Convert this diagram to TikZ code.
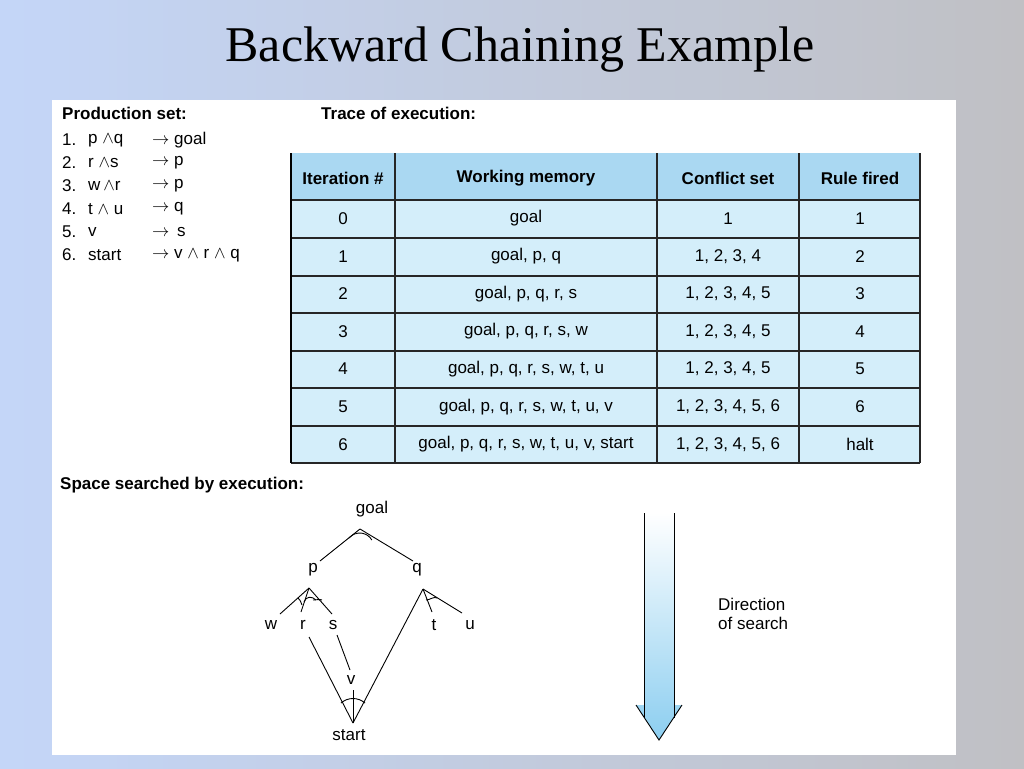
\documentclass[tikz,border=0pt]{standalone}
\usepackage{fontspec}
\setmainfont{Liberation Sans}
\newfontfamily\titlefont{Liberation Serif}
\begin{document}
\begin{tikzpicture}[x=1pt,y=-1pt,
  lbl/.style={inner sep=0pt,font=\fontsize{17}{19}\selectfont},
  hdr/.style={inner sep=0pt,font=\fontsize{17}{19}\selectfont\bfseries},
  cell/.style={inner sep=0pt,font=\fontsize{17}{19}\selectfont},
  edge/.style={line width=0.9pt},
  grid/.style={line width=1.2pt,draw=black!85}]
\useasboundingbox (0,0) rectangle (1024,768);
\shade[left color={rgb,255:red,196;green,214;blue,248},right color={rgb,255:red,192;green,192;blue,196}] (0,0) rectangle (1024,768);
\fill[white] (52,100) rectangle (956,755);
\node[inner sep=0pt,font=\fontsize{50}{56}\selectfont\titlefont] (title) at (520,50) {Backward Chaining Example};
% production set
\node[hdr,anchor=west] (ps) at (62,113) {Production set:};
\foreach \n/\l/\r [count=\i] in {1./{p $\wedge$q}/goal, 2./{r $\wedge$s}/p, 3./{w$\,\wedge$r}/p, 4./{t $\wedge$ u}/q, 5./v/{\,s}, 6./start/{v $\wedge$ r $\wedge$ q}}{
  \pgfmathsetmacro\yy{117+23*\i}
  \node[lbl,anchor=west] (pn\i) at (62,\yy) {\n};
  \node[lbl,anchor=west] (pl\i) at (88,\yy) {\l};
  \node[lbl,anchor=west] (pr\i) at (152,\yy) {$\rightarrow$ \r};
}
\node[hdr,anchor=west] (tr) at (321,113) {Trace of execution:};
% table
\fill[fill={rgb,255:red,212;green,238;blue,250}] (291,200) rectangle (920,463);
\fill[fill={rgb,255:red,170;green,216;blue,242}] (291,153) rectangle (920,200);
\foreach \y in {200,238,276,313,351,388,426,463} \draw[grid] (291,\y) -- (920,\y);
\foreach \x in {395,657,799,920} \draw[grid] (\x,153) -- (\x,463);
\draw[line width=2pt] (291,153) -- (291,463);
\node[hdr] (h1) at (343,178) {Iteration \#};
\node[hdr] (h2) at (526,178) {Working memory};
\node[hdr] (h3) at (728,178) {Conflict set};
\node[hdr] (h4) at (860,178) {Rule fired};
\foreach \a/\b/\c/\d [count=\i] in {
 0/goal/1/1,
 1/{goal, p, q}/{1, 2, 3, 4}/2,
 2/{goal, p, q, r, s}/{1, 2, 3, 4, 5}/3,
 3/{goal, p, q, r, s, w}/{1, 2, 3, 4, 5}/4,
 4/{goal, p, q, r, s, w, t, u}/{1, 2, 3, 4, 5}/5,
 5/{goal, p, q, r, s, w, t, u, v}/{1, 2, 3, 4, 5, 6}/6,
 6/{goal, p, q, r, s, w, t, u, v, start}/{1, 2, 3, 4, 5, 6}/halt}{
  \pgfmathsetmacro\yy{181+37.6*\i}
  \node[cell] (c\i a) at (343,\yy) {\a};
  \node[cell] (c\i b) at (526,\yy) {\b};
  \node[cell] (c\i c) at (728,\yy) {\c};
  \node[cell] (c\i d) at (860,\yy) {\d};
}
% tree
\node[hdr,anchor=west] (sp) at (60,485) {Space searched by execution:};
\node[lbl] (goal) at (372,509) {goal};
\node[lbl] (p) at (313,570) {p};
\node[lbl] (q) at (417,570) {q};
\node[lbl] (w) at (271,625) {w};
\node[lbl] (r) at (303,625) {r};
\node[lbl] (s) at (333,625) {s};
\node[lbl] (t) at (434,625) {t};
\node[lbl] (u) at (470,625) {u};
\node[lbl] (v) at (351,680) {v};
\node[lbl] (start) at (349,735) {start};
\coordinate (ga) at (360,529);
\coordinate (pa) at (309,588);
\coordinate (qa) at (423,589);
\coordinate (sa) at (353,723);
\draw[edge] (ga) -- (320,561);
\draw[edge] (ga) -- (413,561);
\draw[edge] (pa) -- (280,614);
\draw[edge] (pa) -- (301,612);
\draw[edge] (pa) -- (332,614);
\draw[edge] (qa) -- (432,612);
\draw[edge] (qa) -- (462,613);
\draw[edge] (qa) -- (sa);
\draw[edge] (309,637) -- (sa);
\draw[edge] (337,635) -- (350,670);
\draw[edge] (353,690) -- (sa);
% and-arcs
\draw[edge] (ga) ++(-11,9) arc[start angle=-140,end angle=-30,radius=14] ;
\draw[edge] (pa) ++(-11,10) .. controls (300,600) .. (302,605);
\draw[edge] (pa) ++(-5,14) .. controls (306,596) and (312,596) .. (316,600);
\draw[edge] (pa) ++(4,12) .. controls (316,600) and (320,599) .. (322,600);
\draw[edge] (qa) ++(3,11) .. controls (430,600) and (434,596) .. (437,598);
\draw[edge] (341,703) .. controls (348,697) and (358,697) .. (365,703);
% direction arrow
\shade[top color=white,bottom color={rgb,255:red,140;green,206;blue,240}]
  (644,513) -- (644,705) -- (636,705) -- (659,740) -- (682,705) -- (674,705) -- (674,513) -- cycle;
\draw[edge] (644,513) -- (644,718);
\draw[edge] (674,513) -- (674,718);
\draw[edge] (636,705) -- (659,740) -- (682,705);
\node[lbl,anchor=west,align=left] (dir) at (718,614) {Direction\\of search};
\end{tikzpicture}
\end{document}
